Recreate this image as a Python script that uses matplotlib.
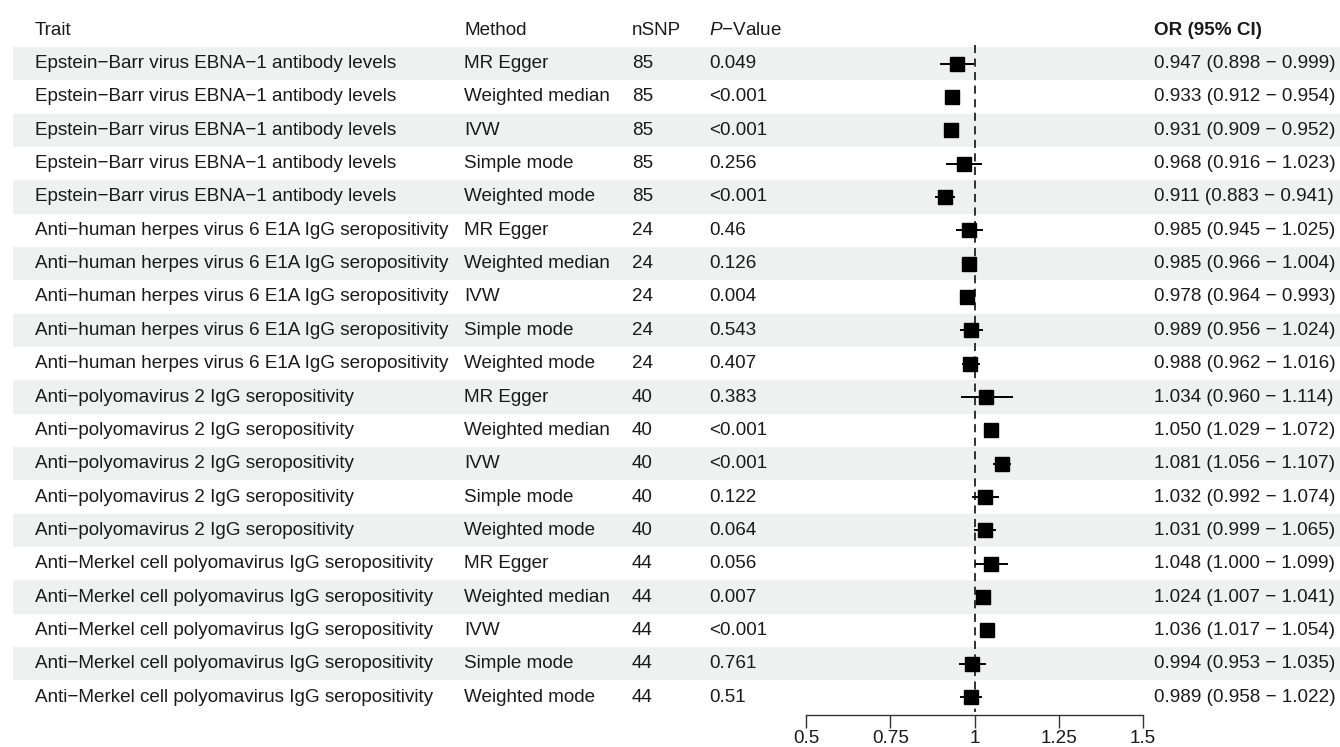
import matplotlib.pyplot as plt
import numpy as np

plt.rcParams['font.family'] = ['Liberation Sans', 'DejaVu Sans']
plt.rcParams['mathtext.fontset'] = 'custom'
plt.rcParams['mathtext.rm'] = 'Liberation Sans'
plt.rcParams['mathtext.it'] = 'Liberation Sans:italic'

ebv = "Epstein\u2212Barr virus EBNA\u22121 antibody levels"
hhv = "Anti\u2212human herpes virus 6 E1A IgG seropositivity"
pyv = "Anti\u2212polyomavirus 2 IgG seropositivity"
mcv = "Anti\u2212Merkel cell polyomavirus IgG seropositivity"
methods5 = ["MR Egger", "Weighted median", "IVW", "Simple mode", "Weighted mode"]

traits = [ebv] * 5 + [hhv] * 5 + [pyv] * 5 + [mcv] * 5
methods = methods5 * 4
nsnp = [85] * 5 + [24] * 5 + [40] * 5 + [44] * 5
pvals = ["0.049", "<0.001", "<0.001", "0.256", "<0.001",
         "0.46", "0.126", "0.004", "0.543", "0.407",
         "0.383", "<0.001", "<0.001", "0.122", "0.064",
         "0.056", "0.007", "<0.001", "0.761", "0.51"]
odds = [0.947, 0.933, 0.931, 0.968, 0.911,
        0.985, 0.985, 0.978, 0.989, 0.988,
        1.034, 1.050, 1.081, 1.032, 1.031,
        1.048, 1.024, 1.036, 0.994, 0.989]
lower = [0.898, 0.912, 0.909, 0.916, 0.883,
         0.945, 0.966, 0.964, 0.956, 0.962,
         0.960, 1.029, 1.056, 0.992, 0.999,
         1.000, 1.007, 1.017, 0.953, 0.958]
upper = [0.999, 0.954, 0.952, 1.023, 0.941,
         1.025, 1.004, 0.993, 1.024, 1.016,
         1.114, 1.072, 1.107, 1.074, 1.065,
         1.099, 1.041, 1.054, 1.035, 1.022]
xticks = [0.5, 0.75, 1, 1.25, 1.5]
xticklabels = ["0.5", "0.75", "1", "1.25", "1.5"]

W, H = 1340, 747
row_h = 33.35
y0 = 63.5
n = len(odds)
txt = '#1a1a1a'
fs = 13.6

fig = plt.figure(figsize=(W / 100, H / 100), dpi=100)

# table layer: x in pixels, y in row units
tab = fig.add_axes([0, 0, 1, 1])
tab.set_xlim(0, W)
tab.set_ylim((H - y0) / row_h, -y0 / row_h)
tab.axis('off')

rows = np.arange(n)
for i in rows:
    if i % 2 == 0:
        tab.axhspan(i - 0.5, i + 0.5, xmin=13 / W, xmax=1, color='#eef1f0', lw=0, zorder=0)

cols = [35, 464, 632, 709, 1154]
heads = ["Trait", "Method", "nSNP", "$P$\u2212Value", "OR (95% CI)"]
for x, h in zip(cols, heads):
    tab.text(x, -1.0, h, ha='left', va='center', fontsize=fs, color=txt,
             fontweight='bold' if h.startswith("OR") else 'normal')

for i in rows:
    ci = f"{odds[i]:.3f} ({lower[i]:.3f} \u2212 {upper[i]:.3f})"
    for x, s in zip(cols, [traits[i], methods[i], str(nsnp[i]), pvals[i], ci]):
        tab.text(x, i, s, ha='left', va='center', fontsize=fs, color=txt)

# forest panel
ax_bottom = 715
ax = fig.add_axes([806 / W, (H - ax_bottom) / H, 337 / W, ax_bottom / H])
ax.set_xlim(0.5, 1.5)
ax.set_ylim((ax_bottom - y0) / row_h, -y0 / row_h)
ax.patch.set_alpha(0)
for s in ['top', 'right', 'left']:
    ax.spines[s].set_visible(False)
ax.spines['bottom'].set_color('#333333')
ax.spines['bottom'].set_linewidth(1.0)
ax.set_yticks([])
ax.set_xticks(xticks)
ax.set_xticklabels(xticklabels, fontsize=fs, color=txt)
ax.tick_params(axis='x', direction='out', length=9, width=1.0, color='#333333', pad=2)

ax.plot([1, 1], [-0.55, n - 0.55], color='#222222', lw=1.3, ls=(0, (4.5, 3)), zorder=1)
odds_a = np.array(odds)
ax.hlines(rows, lower, upper, color='black', lw=1.4, zorder=2)
ax.plot(odds_a, rows, 's', color='black', markersize=9.5, zorder=3)

fig.savefig('out.png', dpi=100)
